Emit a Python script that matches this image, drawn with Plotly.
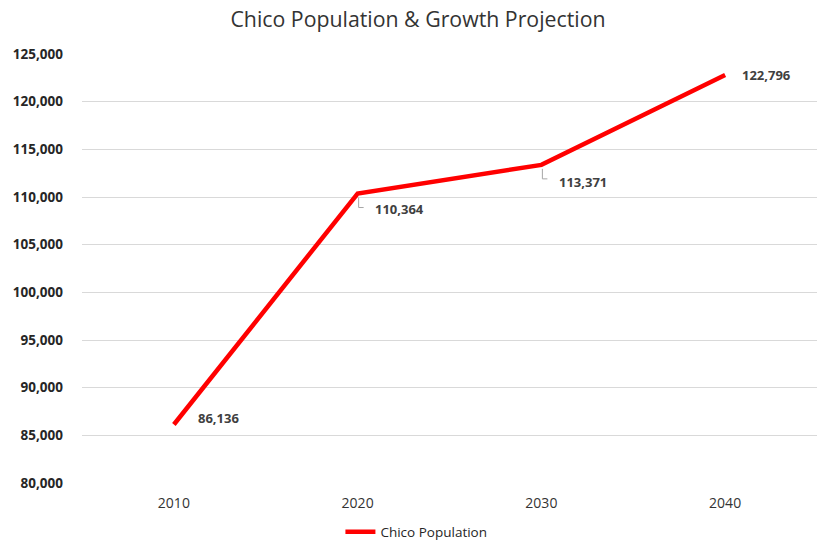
import plotly.graph_objects as go

years = ["2010", "2020", "2030", "2040"]
population = [86136, 110364, 113371, 122796]
label_texts = ["86,136", "110,364", "113,371", "122,796"]
y_ticks = [80000, 85000, 90000, 95000, 100000, 105000, 110000, 115000, 120000, 125000]
y_tick_labels = ["80,000", "85,000", "90,000", "95,000", "100,000", "105,000",
                 "110,000", "115,000", "120,000", "125,000"]

# label offsets (pixels) relative to points
label_dx = [22, 15, 16, 15]
label_dy = [-7, 15, 17, 0]
leader = [False, True, True, False]

fig = go.Figure()
fig.add_trace(go.Scatter(
    x=years, y=population, mode="lines", name="Chico Population",
    line=dict(color="#ff0000", width=4.5),
    hoverinfo="skip",
))

for i, (yv, t) in enumerate(zip(population, label_texts)):
    fig.add_annotation(
        x=i, y=yv, text="<b>" + t + "</b>", showarrow=False,
        xanchor="left", yanchor="middle",
        xshift=label_dx[i], yshift=-label_dy[i],
        font=dict(family="Open Sans", size=13, color="#404040"),
    )
    if leader[i]:
        fig.add_shape(
            type="path", xref="x", yref="y",
            xsizemode="pixel", ysizemode="pixel",
            xanchor=i, yanchor=yv,
            path="M 1,-4 L 1,-14 L 6,-14",
            line=dict(color="#a6a6a6", width=1),
        )

fig.update_layout(
    width=817, height=540,
    margin=dict(l=82, r=0, t=54, b=57),
    paper_bgcolor="white", plot_bgcolor="white",
    title=dict(text="Chico Population & Growth Projection", x=418 / 817, xanchor="center",
               y=1 - 20 / 540, yanchor="middle",
               font=dict(family="Open Sans", size=21.3, color="#333333")),
    showlegend=True,
    legend=dict(orientation="h", x=0.455, xanchor="center",
                yref="container", y=8 / 540, yanchor="middle",
                font=dict(family="Open Sans", size=13.5, color="#262626"),
                itemwidth=30),
    xaxis=dict(type="category", range=[-0.5, 3.5], showgrid=False, showline=False,
               ticks="", ticklabelstandoff=10,
               tickfont=dict(family="Open Sans", size=14, color="#333333"),
               zeroline=False),
    yaxis=dict(range=[80000, 125000], tickvals=y_ticks, ticktext=y_tick_labels,
               showgrid=True, gridcolor="#d9d9d9", gridwidth=1, showline=False,
               zeroline=False, ticks="", ticklabelstandoff=18,
               tickfont=dict(family="Open Sans", size=13.5, color="#262626", weight="bold")),
)

fig.write_html("out.html", config={"displayModeBar": False},
               post_script="document.body.style.margin='0';document.body.style.overflow='hidden';")
